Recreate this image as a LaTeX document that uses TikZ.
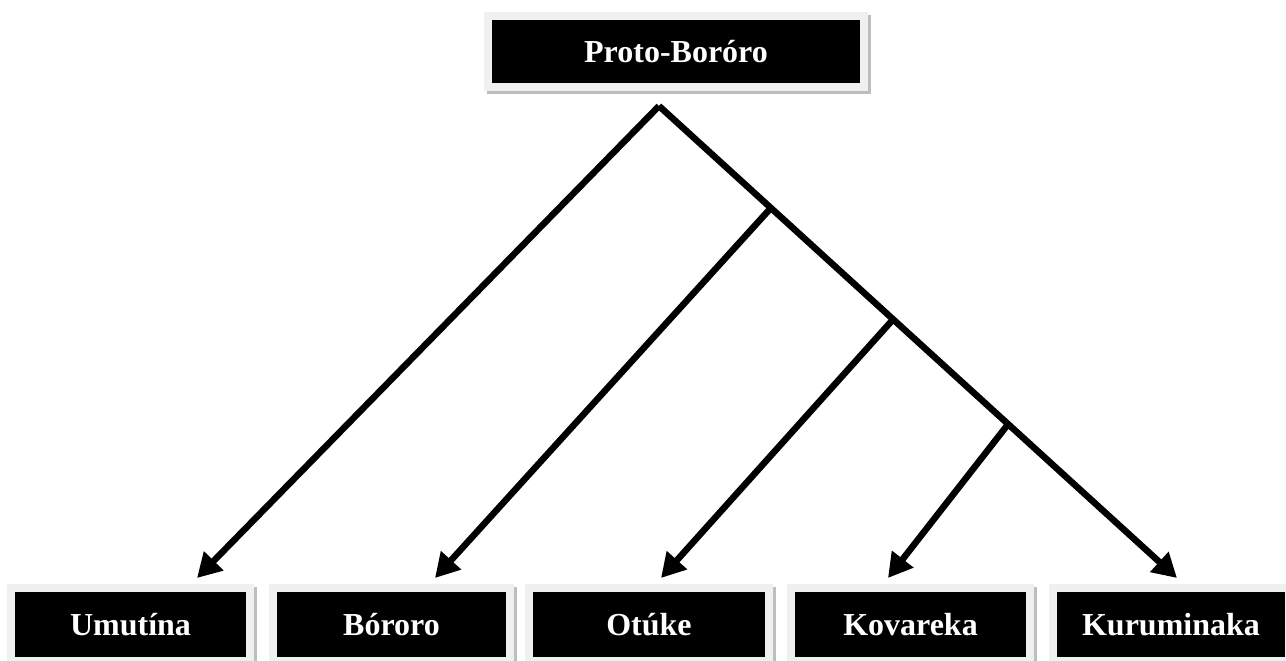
\documentclass[tikz,border=0pt]{standalone}
\usepackage{fontspec}
\setmainfont{Liberation Serif}
\usetikzlibrary{arrows.meta,calc}
\definecolor{framegray}{RGB}{240,240,240}
\definecolor{shadowgray}{RGB}{190,190,190}
\tikzset{
  langbox/.style={fill=black, text=white, inner sep=0pt,
    font=\fontsize{32}{38}\selectfont\bfseries,
    minimum height=65pt,
    preaction={draw=shadowgray, line width=16pt, transform canvas={shift={(3,3)}}},
    preaction={draw=framegray, line width=16pt}},
  branch/.style={line width=6.5pt, -{Triangle[length=24pt,width=26pt]}}
}
\begin{document}
\begin{tikzpicture}[x=1pt,y=-1pt]
\useasboundingbox[fill=white] (0,0) rectangle (1286,661);
\node[langbox, minimum width=368pt, minimum height=63pt] (proto) at (676,51.5) {Proto-Boróro};
\node[langbox, minimum width=231pt] (umu) at (130.5,624.5) {Umutína};
\node[langbox, minimum width=229pt] (bor) at (391.5,624.5) {Bóroro};
\node[langbox, minimum width=232pt] (otu) at (649,624.5) {Otúke};
\node[langbox, minimum width=231pt] (kov) at (910.5,624.5) {Kovareka};
\node[langbox, minimum width=228pt] (kur) at (1171,624.5) {Kuruminaka};
\coordinate (apex) at (659,106);
\coordinate (tumu) at (197,578);
\coordinate (tbor) at (435,578);
\coordinate (totu) at (661,578);
\coordinate (tkov) at (888,578);
\coordinate (tkur) at (1177,578);
\coordinate (j1) at ($(apex)!0.216!(tkur)$);
\coordinate (j2) at ($(apex)!0.452!(tkur)$);
\coordinate (j3) at ($(apex)!0.674!(tkur)$);
\draw[branch] (apex) -- (tumu);
\draw[branch] (apex) -- (tkur);
\draw[branch] (j1) -- (tbor);
\draw[branch] (j2) -- (totu);
\draw[branch] (j3) -- (tkov);
\end{tikzpicture}
\end{document}
